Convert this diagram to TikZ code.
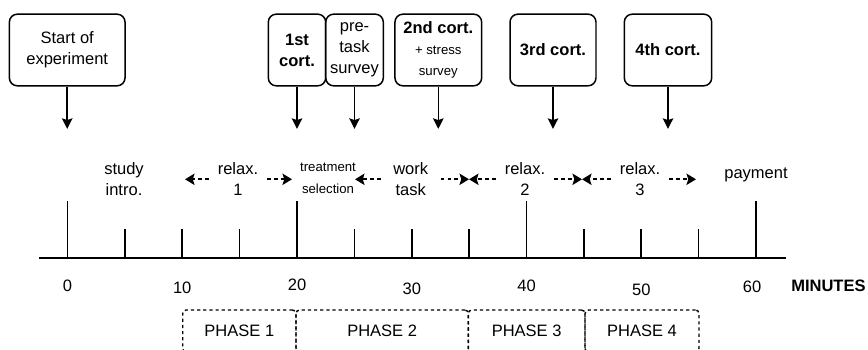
\documentclass[tikz,border=0pt]{standalone}
\usepackage{fontspec}
\setmainfont{Liberation Sans}
\usetikzlibrary{arrows.meta}

\begin{document}
\begin{tikzpicture}[
        x=0.02cm, y=-0.02cm,
        font=\fontsize{9.4}{11.9}\selectfont,
        cbox/.style={
            draw, line width=0.85pt, rounded corners=0.16cm, align=center,
            minimum height=1.434cm, inner sep=1pt
        },
        phasebox/.style={
            draw, dash pattern=on 1.8pt off 1.7pt, line width=0.8pt,
            rounded corners=0.07cm, minimum height=0.84cm, inner sep=0pt
        },
        lbl/.style={align=center, inner xsep=5pt, inner ysep=1pt},
        small/.style={font=\fontsize{7.5}{12.5}\selectfont},
        down/.style={-{Stealth[length=6pt,width=6pt,inset=1pt]}, line width=0.85pt},
        dasharrow/.style={
            -{Stealth[length=5.4pt,width=6.4pt,inset=1pt]},
            line width=1.1pt, dash pattern=on 2pt off 1.9pt
        },
        tick/.style={line width=0.9pt}
        ]

        % --- Frame (pixels of the original) ---
        \useasboundingbox (0,0) rectangle (868,350);
        \def\mn{11.475}
        \def\zero{67.5}

        % --- Top: cortisol samples and surveys ---
        \node[cbox, minimum width=2.314cm] (start) at (67.2,50)
        {Start of\\experiment};
        \node[cbox, minimum width=1.148cm] (cortA) at (297,50)
        {\textbf{1st}\\\textbf{cort.}};
        \node[cbox, minimum width=1.152cm] (pretask) at (354.5,50)
        {pre-\\task\\survey};
        \node[cbox, minimum width=1.734cm] (cortB) at (438.3,50)
        {\textbf{2nd cort.}\\{\fontsize{7.5}{11}\selectfont + stress}\\{\fontsize{7.5}{11}\selectfont survey}};
        \node[cbox, minimum width=1.72cm] (cortC) at (553,50)
        {\textbf{3rd cort.}};
        \node[cbox, minimum width=1.748cm] (cortD) at (668,50)
        {\textbf{4th cort.}};

        % --- Arrows down to the time line ---
        \foreach \b in {start,cortA,pretask,cortB,cortC,cortD} {
            \coordinate (\b-tip) at ([yshift=-0.846cm]\b.south);
            \draw[down] (\b) -- (\b-tip);
        }

        % --- Time line ---
        \draw[line width=1pt] (38.7,257.7) -- (786,257.7);
        \foreach \m in {0,20,40,60}
            \draw[tick] ({\zero+\mn*\m},257.7) -- ({\zero+\mn*\m},201);
        \foreach \m in {5,10,15,25,30,35,45,50,55}
            \draw[tick] ({\zero+\mn*\m},257.7) -- ({\zero+\mn*\m},229.3);
        \foreach \m/\y in {0/286,10/288,20/285,30/289,40/286,50/290}
            \node (n\m) at ({\zero+\mn*\m},\y) {\m};
        \node (n60) at (752,287) {60};
        \node[font=\fontsize{9.4}{11.9}\selectfont\bfseries] (minutes) at (828.4,286) {MINUTES};

        % --- Activities ---
        \node[lbl] (intro) at (124,179.3) {study\\intro.};
        \node[lbl] (relaxA) at (238,179.3) {relax.\\1};
        \node[lbl, small] (treat) at (328,178.5) {treatment\\selection};
        \node[lbl, inner xsep=7pt] (work) at (410.7,179.3) {work\\task};
        \node[lbl] (relaxB) at (525,179.3) {relax.\\2};
        \node[lbl] (relaxC) at (640,179.3) {relax.\\3};
        \node[lbl] (payment) at (756,175) {payment};

        % --- Interval ends ---
        \coordinate (t10) at (185,179.3);
        \coordinate (t20) at (292,179.3);
        \coordinate (t25) at (355,179.3);
        \coordinate (t35) at (469,179.3);
        \coordinate (t45) at (582,179.3);
        \coordinate (t55) at (696,179.3);

        \draw[dasharrow] (relaxA.west) -- (t10);
        \draw[dasharrow] (relaxA.east) -- (t20);
        \draw[dasharrow] (work.west) -- (t25);
        \draw[dasharrow] (work.east) -- (t35);
        \draw[dasharrow] (relaxB.west) -- (t35);
        \draw[dasharrow] (relaxB.east) -- (t45);
        \draw[dasharrow] (relaxC.west) -- (t45);
        \draw[dasharrow] (relaxC.east) -- (t55);

        % --- Phases ---
        \node[phasebox, minimum width=2.266cm] (phaseA) at (239.35,331) {PHASE 1};
        \node[phasebox, minimum width=3.446cm] (phaseB) at (382.15,331) {PHASE 2};
        \node[phasebox, minimum width=2.334cm] (phaseC) at (526.65,331) {PHASE 3};
        \node[phasebox, minimum width=2.28cm] (phaseD) at (642,331) {PHASE 4};

\end{tikzpicture}
\end{document}
